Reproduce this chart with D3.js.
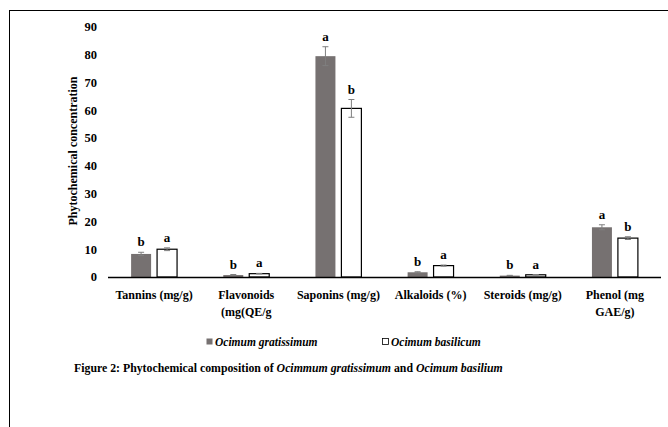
<!DOCTYPE html>
<html>
<head>
<meta charset="utf-8">
<script src="https://cdn.jsdelivr.net/npm/d3@7"></script>
<style>
    body { margin: 0; background: #fff; }
    svg { display: block; }
</style>
</head>
<body>
<script>
const width = 668;
const height = 427;

// chart data
const categories = ["Tannins (mg/g)", "Flavonoids\n(mg(QE/g", "Saponins (mg/g)", "Alkaloids (%)", "Steroids (mg/g)", "Phenol (mg\nGAE/g)"];
const seriesNames = ["Ocimum gratissimum", "Ocimum basilicum"];
const gratissimum = [8.3, 0.7, 79.5, 1.7, 0.5, 17.9];
const basilicum = [10.0, 1.2, 60.7, 4.1, 0.8, 14.0];
const gratissimumErr = [0.6, 0.2, 3.4, 0.2, 0.1, 0.9];
const basilicumErr = [0.5, 0.1, 3.2, 0.2, 0.1, 0.5];
const gratissimumLetters = ["b", "b", "a", "b", "b", "a"];
const basilicumLetters = ["a", "a", "b", "a", "a", "b"];
const yTicks = [0, 10, 20, 30, 40, 50, 60, 70, 80, 90];

const colors = { "Ocimum gratissimum": "#767171", "Ocimum basilicum": "#ffffff" };
const serif = '"Liberation Serif"';

const rows = [];
categories.forEach((c, i) => {
    rows.push({ cat: c, series: seriesNames[0], value: gratissimum[i], err: gratissimumErr[i], letter: gratissimumLetters[i] });
    rows.push({ cat: c, series: seriesNames[1], value: basilicum[i], err: basilicumErr[i], letter: basilicumLetters[i] });
});

// every text gets its font set directly
function font(sel, size) {
    return sel.style("font-family", serif)
        .style("font-weight", "bold")
        .style("font-size", size + "px")
        .style("fill", "#000");
}

const svg = d3.select("body").append("svg")
    .attr("width", width)
    .attr("height", height);

// outer frame (runs off the right and bottom edges)
svg.append("rect")
    .attr("x", 9.5)
    .attr("y", 10.5)
    .attr("width", 700)
    .attr("height", 500)
    .style("fill", "none")
    .style("stroke", "#000")
    .style("stroke-width", 1);

const x0 = d3.scaleBand().domain(categories).range([108, 661]);
const x1 = d3.scaleBand().domain(seriesNames).range([0, x0.bandwidth()])
    .paddingInner(0.23).paddingOuter(0.89);
const y = d3.scaleLinear().domain([0, 90]).range([277, 27]);

// y tick labels
font(svg.append("g")
    .selectAll("text")
    .data(yTicks)
    .enter()
    .append("text")
    .attr("x", 97)
    .attr("y", d => y(d))
    .attr("dy", "0.35em")
    .attr("text-anchor", "end"), 12.5)
    .text(d => d);

font(svg.append("text")
    .attr("transform", "translate(77,151) rotate(-90)")
    .attr("text-anchor", "middle"), 12)
    .text("Phytochemical concentration");

// bars
svg.append("g")
    .selectAll("rect")
    .data(rows)
    .enter()
    .append("rect")
    .attr("x", d => x0(d.cat) + x1(d.series))
    .attr("y", d => y(d.value))
    .attr("width", x1.bandwidth())
    .attr("height", d => y(0) - y(d.value))
    .style("fill", d => colors[d.series])
    .style("stroke", d => d.series === seriesNames[1] ? "#000" : "none")
    .style("stroke-width", 1.2);

// error bars
const errs = svg.append("g")
    .selectAll("g")
    .data(rows)
    .enter()
    .append("g")
    .style("stroke", "#7f7f7f")
    .style("stroke-width", 1);

const cx = d => x0(d.cat) + x1(d.series) + x1.bandwidth() / 2;
errs.append("line")
    .attr("x1", cx).attr("x2", cx)
    .attr("y1", d => y(d.value + d.err))
    .attr("y2", d => y(d.value - d.err));
[1, -1].forEach(sign => {
    errs.append("line")
        .attr("x1", d => cx(d) - 3).attr("x2", d => cx(d) + 3)
        .attr("y1", d => y(d.value + sign * d.err))
        .attr("y2", d => y(d.value + sign * d.err));
});

// significance letters
font(svg.append("g")
    .selectAll("text")
    .data(rows)
    .enter()
    .append("text")
    .attr("x", cx)
    .attr("y", d => y(d.value + d.err) - 6)
    .attr("text-anchor", "middle"), 13)
    .text(d => d.letter);

// baseline
svg.append("line")
    .attr("x1", 108).attr("x2", 661)
    .attr("y1", y(0) + 0.5).attr("y2", y(0) + 0.5)
    .style("stroke", "#000")
    .style("stroke-width", 1.3);

// category labels
const catLabels = font(svg.append("g")
    .selectAll("text")
    .data(categories)
    .enter()
    .append("text")
    .attr("text-anchor", "middle"), 12);

catLabels.selectAll("tspan")
    .data(d => d.split("\n").map(t => ({ t, c: d })))
    .enter()
    .append("tspan")
    .attr("x", d => x0(d.c) + x0.bandwidth() / 2)
    .attr("y", (d, i) => 299 + i * 16.5)
    .text(d => d.t);

// legend
const legend = svg.append("g");
const legendX = [206, 382];
seriesNames.forEach((s, i) => {
    legend.append("rect")
        .attr("x", legendX[i] + 0.5)
        .attr("y", 338.5)
        .attr("width", 6)
        .attr("height", 6)
        .style("fill", colors[s])
        .style("stroke", i === 1 ? "#000" : "none")
        .style("stroke-width", 0.8);
    font(legend.append("text")
        .attr("x", legendX[i] + 9)
        .attr("y", 346), 11.5)
        .style("font-style", "italic")
        .text(s);
});

// caption
const caption = font(svg.append("text")
    .attr("x", 74)
    .attr("y", 372), 11.8);
caption.append("tspan").text("Figure 2: Phytochemical composition of ");
caption.append("tspan").style("font-style", "italic").text("Ocimmum gratissimum");
caption.append("tspan").text(" and ");
caption.append("tspan").style("font-style", "italic").text("Ocimum basilium");
</script>
</body>
</html>
